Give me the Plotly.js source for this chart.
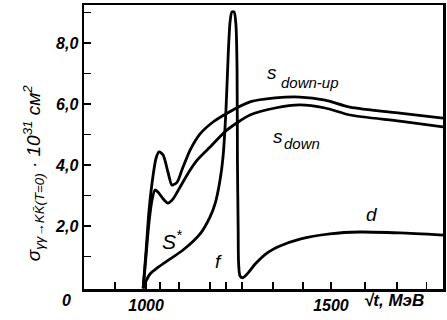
<!DOCTYPE html>
<html>
<head>
<meta charset="utf-8">
<script src="https://cdn.plot.ly/plotly-3.0.1.min.js"></script>
<style>html,body{margin:0;padding:0;background:#fff;}#chart{width:447px;height:320px;}</style>
</head>
<body>
<div id="chart"></div>
<script>
// s_down-up curve
const upX = [992, 1000, 1008, 1019, 1027, 1035, 1046, 1059, 1070, 1084, 1097, 1119, 1146, 1181, 1219, 1281, 1349, 1416, 1484, 1551, 1686, 1803];
const upY = [-0.05, 1.21, 2.52, 3.67, 4.23, 4.43, 4.33, 3.77, 3.34, 3.44, 3.84, 4.49, 5.02, 5.41, 5.70, 6.07, 6.20, 6.23, 6.13, 5.90, 5.70, 5.54];
// s_down curve
const dnX = [992, 1000, 1008, 1016, 1024, 1032, 1046, 1059, 1073, 1092, 1114, 1138, 1173, 1219, 1281, 1349, 1416, 1484, 1551, 1686, 1803];
const dnY = [-0.05, 1.05, 2.13, 2.85, 3.18, 3.11, 2.89, 2.75, 2.89, 3.28, 3.74, 4.16, 4.59, 5.15, 5.64, 5.87, 5.97, 5.87, 5.64, 5.44, 5.25];
// S* -> f -> d curve
const sfdX = [992, 1000, 1011, 1030, 1057, 1100, 1146, 1173, 1187, 1200, 1208, 1216, 1222, 1227, 1232, 1238, 1243, 1246, 1247, 1249, 1250, 1254, 1262, 1276, 1295, 1327, 1362, 1416, 1497, 1578, 1686, 1803];
const sfdY = [-0.05, 0.20, 0.43, 0.62, 0.85, 1.21, 1.74, 2.30, 2.75, 3.51, 4.26, 5.80, 7.61, 8.69, 9.02, 9.02, 8.59, 7.11, 4.16, 1.87, 0.82, 0.36, 0.30, 0.46, 0.75, 1.11, 1.34, 1.57, 1.74, 1.80, 1.77, 1.70];

const xTickVals = [916, 1000, 1038, 1089, 1173, 1216, 1259, 1343, 1424, 1500, 1592, 1678, 1759];
const xTickText = ["", "1000", "", "", "", "", "", "", "", "1500", "", "", ""];
const yTickVals = [1, 2, 3, 4, 5, 6, 7, 8, 9];
const yTickText = ["", "2,0", "", "4,0", "", "6,0", "", "8,0", ""];

const FAM = "Liberation Sans Narrow, Liberation Sans, Arial, sans-serif";
const lineStyle = {color: "#000", width: 2.8, shape: "spline", smoothing: 0.7};

const traces = [
  {x: upX, y: upY, mode: "lines", line: lineStyle, hoverinfo: "skip"},
  {x: dnX, y: dnY, mode: "lines", line: lineStyle, hoverinfo: "skip"},
  {x: sfdX, y: sfdY, mode: "lines", line: lineStyle, hoverinfo: "skip"}
];

const italic = (size, weight) => ({family: FAM, size: size, color: "#000", style: "italic", weight: weight || "normal"});

const layout = {
  width: 447, height: 320,
  margin: {l: 84, r: 4, t: 5, b: 31},
  paper_bgcolor: "#fff", plot_bgcolor: "#fff",
  showlegend: false,
  xaxis: {
    range: [832, 1803], showgrid: false, zeroline: false,
    showline: true, linecolor: "#000", linewidth: 2.5, mirror: true,
    ticks: "inside", ticklen: 7, tickwidth: 1.5, tickcolor: "#000",
    tickmode: "array", tickvals: xTickVals, ticktext: xTickText,
    tickfont: italic(16, "bold")
  },
  yaxis: {
    range: [-0.07, 9.25], showgrid: false, zeroline: false,
    showline: true, linecolor: "#000", linewidth: 2.5, mirror: true,
    ticks: "inside", ticklen: 7, tickwidth: 1.5, tickcolor: "#000",
    tickmode: "array", tickvals: yTickVals, ticktext: yTickText,
    tickfont: italic(16, "bold")
  },
  annotations: [
    {xref: "paper", yref: "paper", x: -0.05, y: -0.04, text: "0", showarrow: false, font: italic(16, "bold"), xanchor: "center", yanchor: "middle"},
    {xref: "paper", yref: "paper", x: 0.863, y: -0.04, text: "√t, МэВ", showarrow: false, font: italic(17, "bold"), xanchor: "center", yanchor: "middle"},
    {xref: "paper", yref: "paper", x: -0.14, y: 0.41, textangle: -90, showarrow: false, xanchor: "center", yanchor: "middle",
     text: "σ<sub>γγ→KK̄(T=0)</sub> · 10<sup>31</sup> см<sup>2</sup>", font: italic(19)},
    {x: 1340, y: 7.05, text: "s", showarrow: false, font: italic(19)},
    {x: 1443, y: 6.72, text: "down-up", showarrow: false, font: italic(15)},
    {x: 1357, y: 4.92, text: "s", showarrow: false, font: italic(19)},
    {x: 1421, y: 4.72, text: "down", showarrow: false, font: italic(15)},
    {x: 1072, y: 1.54, text: "S<sup>*</sup>", showarrow: false, font: italic(21)},
    {x: 1195, y: 0.82, text: "f", showarrow: false, font: italic(19)},
    {x: 1611, y: 2.36, text: "d", showarrow: false, font: italic(19)}
  ]
};

Plotly.newPlot("chart", traces, layout, {staticPlot: true, displayModeBar: false});
</script>
</body>
</html>
